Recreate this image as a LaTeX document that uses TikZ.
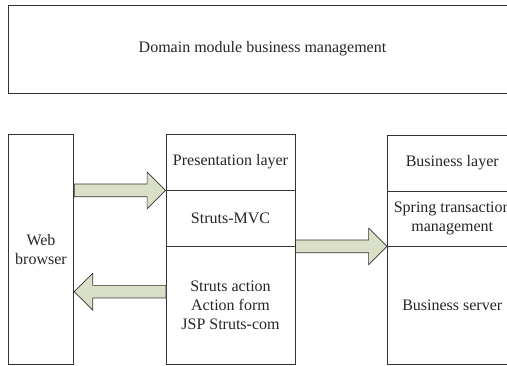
\documentclass[tikz,border=0pt]{standalone}
\usepackage{fontspec}
\setmainfont{Liberation Serif}
\usetikzlibrary{calc}
\definecolor{arrowfill}{RGB}{218,223,200}
\tikzset{
  box/.style={draw=black!80, line width=0.8pt, inner sep=0pt, align=center,
    text=black!85, font=\fontsize{16}{19}\selectfont},
  fat/.style={draw=black!80, line width=0.7pt, fill=arrowfill, line join=miter}
}
% block arrow: #1 = tail, #2 = tip (horizontal)
\newcommand\fatarrow[2]{%
  \filldraw[fat] let \p1=(#1), \p2=(#2), \p3=($(#2)!18.5pt!(#1)$) in
    (\x1,\y1+6.3pt) -- (\x3,\y1+6.3pt) -- (\x3,\y1+18.3pt) -- (\x2,\y1)
    -- (\x3,\y1-18.3pt) -- (\x3,\y1-6.3pt) -- (\x1,\y1-6.3pt) -- cycle;}

\begin{document}
\begin{tikzpicture}[x=1pt, y=-1pt]
\useasboundingbox (0,0) rectangle (507,366);
\clip (0,0) rectangle (507,366);
\node[box, minimum width=509pt, minimum height=88pt] (domain) at (262.5,49) {Domain module business management};
\node[box, minimum width=65.5pt, minimum height=230.5pt] (browser) at (41,249.25) {Web\\browser};
% presentation side
\node[box, minimum width=129pt, minimum height=56pt] (pres) at (230.5,162) {Presentation layer};
\node[box, minimum width=129pt, minimum height=56pt] (mvc) at (230.5,218) {Struts-MVC};
\node[box, minimum width=129pt, minimum height=118.5pt] (act) at (230.5,305.25) {Struts action\\Action form\\JSP Struts-com};
% business side
\node[box, minimum width=129.5pt, minimum height=56pt] (layer) at (452.25,163) {Business layer};
\node[box, minimum width=129.5pt, minimum height=55pt] (spring) at (452.25,218.5) {Spring transaction\\management};
\node[box, minimum width=129.5pt, minimum height=118.5pt] (server) at (452.25,305.25) {Business server};
\coordinate (ret) at (166,291.7);
\fatarrow{browser.east |- pres.south}{pres.south west}
\fatarrow{ret}{browser.east |- ret}
\fatarrow{mvc.south east}{spring.south west}
\end{tikzpicture}
\end{document}
